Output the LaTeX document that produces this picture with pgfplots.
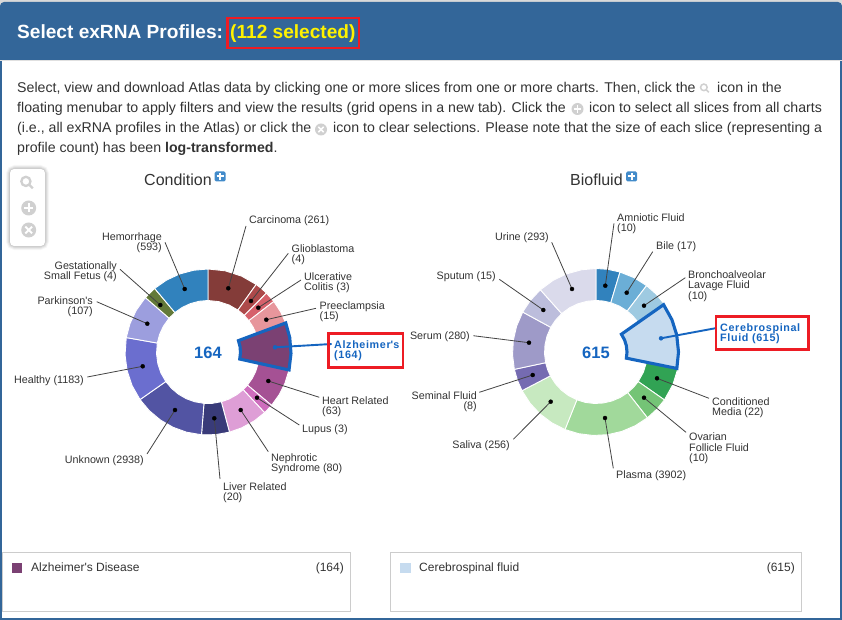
\documentclass[border=0pt]{standalone}
\usepackage{pgfplots}
\usepackage{fontspec}
\pgfplotsset{compat=1.18}
\setmainfont{Liberation Sans}
\newfontfamily\plainfam{Liberation Sans}
\newcommand{\apos}{{\plainfam '}}

\definecolor{panel}{HTML}{336699}
\definecolor{txt}{HTML}{333333}
\definecolor{sel}{HTML}{1565C0}
\definecolor{redbox}{HTML}{ED1C24}
\definecolor{ico}{HTML}{D0D0D0}
\definecolor{ldr}{HTML}{444444}
\definecolor{plusblue}{HTML}{428BCA}
\definecolor{c1}{HTML}{843C39}
\definecolor{c2}{HTML}{AD494A}
\definecolor{c3}{HTML}{D6616B}
\definecolor{c4}{HTML}{E7969C}
\definecolor{c5}{HTML}{7B4173}
\definecolor{c6}{HTML}{A55194}
\definecolor{c7}{HTML}{CE6DBD}
\definecolor{c8}{HTML}{DE9ED6}
\definecolor{c9}{HTML}{393B79}
\definecolor{c10}{HTML}{5254A3}
\definecolor{c11}{HTML}{6B6ECF}
\definecolor{c12}{HTML}{9C9EDE}
\definecolor{c13}{HTML}{637939}
\definecolor{d1}{HTML}{3182BD}
\definecolor{d2}{HTML}{6BAED6}
\definecolor{d3}{HTML}{9ECAE1}
\definecolor{d4}{HTML}{C6DBEF}
\definecolor{d5}{HTML}{31A354}
\definecolor{d6}{HTML}{74C476}
\definecolor{d7}{HTML}{A1D99B}
\definecolor{d8}{HTML}{C7E9C0}
\definecolor{d9}{HTML}{756BB1}
\definecolor{d10}{HTML}{9E9AC8}
\definecolor{d11}{HTML}{BCBDDC}
\definecolor{d12}{HTML}{DADAEB}

% sizes are in px, one pt of the picture is one px of the reference
\newcommand{\labfont}{\fontsize{10.75}{11}\selectfont}
\newcommand{\selfont}{\fontsize{10.75}{11}\selectfont\bfseries\addfontfeature{LetterSpace=6}}
\newcommand{\bodyfont}{\fontsize{14.15}{16}\selectfont}

\newcommand{\ringslice}[4]{% cx, colour, extra style, rows of angle and radius
  \addplot[fill=#2,#3] table[row sep=\\,
    x expr={#1+\thisrow{r}*sin(\thisrow{a})},
    y expr={352-\thisrow{r}*cos(\thisrow{a})}] {a r\\ #4} --cycle;}
\newcommand{\slA}[2]{\ringslice{208}{#1}{draw=white,line width=0.9pt}{#2}}
\newcommand{\slB}[2]{\ringslice{596}{#1}{draw=white,line width=0.9pt}{#2}}

\newcommand{\leader}[4]{%
  \addplot[color=ldr,line width=0.8pt] coordinates {(#1,#2) (#3,#4)};
  \addplot[only marks,mark=*,mark size=2pt,mark options={fill=black,draw=black}] coordinates {(#1,#2)};}
\newcommand{\bluelead}[4]{%
  \addplot[color=sel,line width=1.9pt] coordinates {(#1,#2) (#3,#4)};
  \addplot[only marks,mark=*,mark size=2pt,mark options={fill=sel,draw=sel}] coordinates {(#1,#2)};}

\newcommand{\lL}[3]{\node[anchor=base west,inner sep=0pt,text=txt,font=\labfont,yshift=-4.1pt] at (axis cs:#1,#2) {#3};}
\newcommand{\lR}[3]{\node[anchor=base east,inner sep=0pt,text=txt,font=\labfont,yshift=-4.1pt] at (axis cs:#1,#2) {#3};}
\newcommand{\lB}[3]{\node[anchor=base west,inner sep=0pt,text=sel,font=\selfont,yshift=-4.1pt] at (axis cs:#1,#2) {#3};}
\newcommand{\body}[3]{\node[anchor=base west,inner sep=0pt,text=txt,font=\bodyfont,yshift=-5.6pt] at (axis cs:#1,#2) {#3};}

\newcommand{\rect}[5]{\addplot[#5] coordinates {(#1,#2) (#3,#2) (#3,#4) (#1,#4)} --cycle;}

% round grey icons
\newcommand{\disc}[3]{\fill[ico] (axis cs:#1,#2) circle[radius=#3pt];}
\newcommand{\plusicon}[4]{\disc{#1}{#2}{#3}
  \draw[white,line width=#4pt] (axis cs:#1-#3*0.6,#2) -- (axis cs:#1+#3*0.6,#2);
  \draw[white,line width=#4pt] (axis cs:#1,#2-#3*0.6) -- (axis cs:#1,#2+#3*0.6);}
\newcommand{\closeicon}[4]{\disc{#1}{#2}{#3}
  \draw[white,line width=#4pt] (axis cs:#1-#3*0.45,#2-#3*0.45) -- (axis cs:#1+#3*0.45,#2+#3*0.45);
  \draw[white,line width=#4pt] (axis cs:#1-#3*0.45,#2+#3*0.45) -- (axis cs:#1+#3*0.45,#2-#3*0.45);}
\newcommand{\searchicon}[4]{%
  \draw[ico,line width=#4pt] (axis cs:#1-#3*0.35,#2-#3*0.35) circle[radius=#3pt];
  \draw[ico,line width=#4pt] (axis cs:#1+#3*0.35,#2+#3*0.35) -- (axis cs:#1+#3*1.15,#2+#3*1.15);}
\newcommand{\bluebox}[2]{%
  \fill[plusblue,rounded corners=1.5pt] (axis cs:#1,#2) rectangle (axis cs:#1+11,#2+10);
  \draw[white,line width=2pt] (axis cs:#1+2,#2+5) -- (axis cs:#1+9,#2+5);
  \draw[white,line width=2pt] (axis cs:#1+5.5,#2+1.5) -- (axis cs:#1+5.5,#2+8.5);}

\begin{document}
\begin{tikzpicture}
\path[use as bounding box] (0,0) rectangle (842pt,620pt);
\begin{axis}[
    at={(0,0)}, anchor=south west,
    scale only axis, width=842pt, height=620pt,
    xmin=0, xmax=842, ymin=0, ymax=620,
    y dir=reverse,
    hide axis, clip=false,
  ]

% page, header and frame
\rect{0}{0}{842}{8}{fill=black!15,draw=none}
\fill[panel,rounded corners=4pt] (axis cs:0,2) rectangle (axis cs:842,625);
\rect{2}{61}{840}{618}{fill=white,draw=none}
\rect{0}{60.5}{842}{61.5}{fill=black!12,draw=none}
\node[anchor=base west,inner sep=0pt,text=white,font=\fontsize{19.1}{20}\selectfont\bfseries] at (axis cs:17,38.5) {Select exRNA Profiles:};
\node[anchor=base west,inner sep=0pt,text=yellow,font=\fontsize{19.1}{20}\selectfont\bfseries] at (axis cs:230,38.5) {(112 selected)};
\rect{227.5}{18}{359}{48}{draw=redbox,line width=2.4pt}

% intro text
\body{17}{87}{Select, view and download Atlas data by clicking one or more slices from one or more charts. Then, click the}
\searchicon{705}{88.5}{3.3}{1.5}
\body{717}{87}{icon in the}
\body{17}{107}{floating menubar to apply filters and view the results (grid opens in a new tab). Click the}
\plusicon{577.5}{109}{6}{1.5}
\body{589}{107}{icon to select all slices from all charts}
\body{17}{127}{(i.e., all exRNA profiles in the Atlas) or click the}
\closeicon{321}{129.5}{6}{1.5}
\body{333}{127}{icon to clear selections. Please note that the size of each slice (representing a}
\body{17}{147}{profile count) has been \textbf{log-transformed}.}

% floating toolbar
\foreach \w/\o in {10/0.03,8/0.05,6/0.06,4/0.08,2/0.1}{
  \edef\tmp{\noexpand\draw[black,opacity=\o,line width=\w pt,rounded corners=4pt] (axis cs:11,170) rectangle (axis cs:44,245);}\tmp}
\fill[white,rounded corners=4pt] (axis cs:10,169) rectangle (axis cs:45,246);
\searchicon{27.5}{183}{4.6}{2.3}
\plusicon{28.7}{208}{7.5}{2}
\closeicon{28.7}{230}{7.5}{2}

% chart titles
\node[anchor=base west,inner sep=0pt,text=txt,font=\fontsize{16}{18}\selectfont] at (axis cs:144,186) {Condition};
\bluebox{214.5}{171.5}
\node[anchor=base west,inner sep=0pt,text=txt,font=\fontsize{16}{18}\selectfont] at (axis cs:570,186) {Biofluid};
\bluebox{626}{171.5}

% Condition donut: angle clockwise from the top, radius
\slA{c1}{0 83\\ 12 83\\ 24 83\\ 35.5 83\\ 35.5 51.5\\ 24 51.5\\ 12 51.5\\ 0 51.5\\}
\slA{c2}{35.5 83\\ 40 83\\ 44.8 83\\ 44.8 51.5\\ 40 51.5\\ 35.5 51.5\\}
\slA{c3}{44.8 83\\ 52.5 83\\ 52.5 51.5\\ 44.8 51.5\\}
\slA{c4}{52.5 83\\ 61 83\\ 69.5 83\\ 69.5 51.5\\ 61 51.5\\ 52.5 51.5\\}
\slA{c6}{102.5 83\\ 112 83\\ 121 83\\ 130 83\\ 130 51.5\\ 121 51.5\\ 112 51.5\\ 102.5 51.5\\}
\slA{c7}{130 83\\ 137 83\\ 137 51.5\\ 130 51.5\\}
\slA{c8}{137 83\\ 146 83\\ 156 83\\ 165 83\\ 165 51.5\\ 156 51.5\\ 146 51.5\\ 137 51.5\\}
\slA{c9}{165 83\\ 175 83\\ 184.5 83\\ 184.5 51.5\\ 175 51.5\\ 165 51.5\\}
\slA{c10}{184.5 83\\ 195 83\\ 205 83\\ 215 83\\ 225 83\\ 235 83\\ 235 51.5\\ 225 51.5\\ 215 51.5\\ 205 51.5\\ 195 51.5\\ 184.5 51.5\\}
\slA{c11}{235 83\\ 246 83\\ 257 83\\ 268 83\\ 280 83\\ 280 51.5\\ 268 51.5\\ 257 51.5\\ 246 51.5\\ 235 51.5\\}
\slA{c12}{280 83\\ 290 83\\ 300 83\\ 311 83\\ 311 51.5\\ 300 51.5\\ 290 51.5\\ 280 51.5\\}
\slA{c13}{311 83\\ 320 83\\ 320 51.5\\ 311 51.5\\}
\slA{d1}{320 83\\ 330 83\\ 340 83\\ 350 83\\ 360 83\\ 360 51.5\\ 350 51.5\\ 340 51.5\\ 330 51.5\\ 320 51.5\\}
\ringslice{208}{c5}{draw=sel,line width=3.1pt}{69.5 83\\ 80 83\\ 91 83\\ 102.5 83\\ 102.5 32.5\\ 91 32.5\\ 80 32.5\\ 69.5 32.5\\}

% Biofluid donut
\slB{d1}{0 83.5\\ 8 83.5\\ 16.7 83.5\\ 16.7 51.5\\ 8 51.5\\ 0 51.5\\}
\slB{d2}{16.7 83.5\\ 27 83.5\\ 37.3 83.5\\ 37.3 51.5\\ 27 51.5\\ 16.7 51.5\\}
\slB{d3}{37.3 83.5\\ 46 83.5\\ 55 83.5\\ 55 51.5\\ 46 51.5\\ 37.3 51.5\\}
\slB{d5}{101.5 83.5\\ 113 83.5\\ 125 83.5\\ 125 51.5\\ 113 51.5\\ 101.5 51.5\\}
\slB{d6}{125 83.5\\ 133 83.5\\ 142 83.5\\ 142 51.5\\ 133 51.5\\ 125 51.5\\}
\slB{d7}{142 83.5\\ 152 83.5\\ 162 83.5\\ 172 83.5\\ 182 83.5\\ 192 83.5\\ 201.8 83.5\\ 201.8 51.5\\ 192 51.5\\ 182 51.5\\ 172 51.5\\ 162 51.5\\ 152 51.5\\ 142 51.5\\}
\slB{d8}{201.8 83.5\\ 212 83.5\\ 222 83.5\\ 232 83.5\\ 242.4 83.5\\ 242.4 51.5\\ 232 51.5\\ 222 51.5\\ 212 51.5\\ 201.8 51.5\\}
\slB{d9}{242.4 83.5\\ 250 83.5\\ 258 83.5\\ 258 51.5\\ 250 51.5\\ 242.4 51.5\\}
\slB{d10}{258 83.5\\ 268 83.5\\ 278 83.5\\ 288 83.5\\ 298.6 83.5\\ 298.6 51.5\\ 288 51.5\\ 278 51.5\\ 268 51.5\\ 258 51.5\\}
\slB{d11}{298.6 83.5\\ 308 83.5\\ 318.2 83.5\\ 318.2 51.5\\ 308 51.5\\ 298.6 51.5\\}
\slB{d12}{318.2 83.5\\ 329 83.5\\ 339 83.5\\ 350 83.5\\ 360 83.5\\ 360 51.5\\ 350 51.5\\ 339 51.5\\ 329 51.5\\ 318.2 51.5\\}
\ringslice{596}{d4}{draw=sel,line width=3.1pt}{55 82.5\\ 67 82.5\\ 78 82.5\\ 90 82.5\\ 101.5 82.5\\ 101.5 31\\ 90 31\\ 78 31\\ 67 31\\ 55 31\\}

% leader lines of Condition
\leader{228.3}{288.3}{246}{226}
\leader{251}{301}{288.3}{253.3}
\leader{258.3}{307.7}{301}{280}
\leader{266.3}{319.7}{316}{308.3}
\leader{268.3}{381}{319.3}{397.3}
\leader{257}{397.7}{299.3}{425}
\leader{240.7}{410}{268.3}{451.7}
\leader{214.3}{418.3}{220}{479}
\leader{175}{410}{147}{454}
\leader{142.7}{366.3}{87.3}{377}
\leader{147.3}{323.7}{96.7}{301.7}
\leader{160.3}{305}{120}{269.3}
\leader{184.7}{289}{165}{242.3}
\bluelead{275}{347.3}{331.7}{344}

% leader lines of Biofluid
\leader{605.3}{285.7}{614}{223.3}
\leader{626.7}{292.7}{652.7}{251.7}
\leader{644}{305.7}{685.3}{277.7}
\leader{657}{378.3}{709}{398.3}
\leader{644}{397.7}{686}{432.3}
\leader{605}{418}{613.3}{468.3}
\leader{550.7}{401.7}{513.3}{439.3}
\leader{532.7}{375}{479.3}{392.3}
\leader{529}{342.7}{473.3}{335.7}
\leader{543.3}{310}{499.3}{279.3}
\leader{572}{289}{551.7}{242.3}
\bluelead{661}{338.3}{715}{328.3}

% labels of Condition
\lL{249}{219}{Carcinoma (261)}
\lL{291.5}{248}{Glioblastoma}
\lL{291.5}{258}{(4)}
\lL{304}{276}{Ulcerative}
\lL{304}{286}{Colitis (3)}
\lL{319.5}{305}{Preeclampsia}
\lL{319.5}{315}{(15)}
\lB{334}{344}{Alzheimer\apos s}
\lB{334}{354}{(164)}
\lL{322}{400}{Heart Related}
\lL{322}{410}{(63)}
\lL{302}{428}{Lupus (3)}
\lL{271}{457}{Nephrotic}
\lL{271}{467}{Syndrome (80)}
\lL{223}{486}{Liver Related}
\lL{223}{496}{(20)}
\lR{144}{459}{Unknown (2938)}
\lR{84}{379}{Healthy (1183)}
\lR{93}{300}{Parkinson\apos s}
\lR{93}{310}{(107)}
\lR{117}{265}{Gestationally}
\lR{117}{275}{Small Fetus (4)}
\lR{162}{236}{Hemorrhage}
\lR{162}{246}{(593)}

% labels of Biofluid
\lL{617}{217}{Amniotic Fluid}
\lL{617}{227}{(10)}
\lL{656}{245}{Bile (17)}
\lL{688}{274}{Bronchoalveolar}
\lL{688}{284}{Lavage Fluid}
\lL{688}{295}{(10)}
\lB{720}{327}{Cerebrospinal}
\lB{720}{337}{Fluid (615)}
\lL{712}{401}{Conditioned}
\lL{712}{411}{Media (22)}
\lL{689}{436}{Ovarian}
\lL{689}{447}{Follicle Fluid}
\lL{689}{457}{(10)}
\lL{616}{474}{Plasma (3902)}
\lR{510}{444}{Saliva (256)}
\lR{477}{395}{Seminal Fluid}
\lR{477}{405}{(8)}
\lR{470}{335}{Serum (280)}
\lR{496}{275}{Sputum (15)}
\lR{549}{236}{Urine (293)}

% selected counts in the donut holes
\node[anchor=base,inner sep=0pt,text=sel,font=\fontsize{16.5}{18}\selectfont\bfseries] at (axis cs:208,358) {164};
\node[anchor=base,inner sep=0pt,text=sel,font=\fontsize{16.5}{18}\selectfont\bfseries] at (axis cs:596,358) {615};

% red boxes round the selected labels
\rect{328.5}{333.5}{403}{367.5}{draw=redbox,line width=2.4pt}
\rect{716}{316.5}{808.5}{349.5}{draw=redbox,line width=2.4pt}

% selection boxes at the bottom
\rect{2.7}{552.5}{350.7}{611.5}{draw=black!20,line width=0.8pt}
\rect{390.4}{552.5}{801.8}{611.5}{draw=black!20,line width=0.8pt}
\rect{11.8}{563}{22}{573}{fill=c5,draw=none}
\rect{400}{563}{410.6}{573}{fill=d4,draw=none}
\node[anchor=base west,inner sep=0pt,text=txt,font=\fontsize{12}{14}\selectfont] at (axis cs:31,571.5) {Alzheimer\apos s Disease};
\node[anchor=base east,inner sep=0pt,text=txt,font=\fontsize{12}{14}\selectfont] at (axis cs:344,571.5) {(164)};
\node[anchor=base west,inner sep=0pt,text=txt,font=\fontsize{12}{14}\selectfont] at (axis cs:419,571.5) {Cerebrospinal fluid};
\node[anchor=base east,inner sep=0pt,text=txt,font=\fontsize{12}{14}\selectfont] at (axis cs:795,571.5) {(615)};

\end{axis}
\end{tikzpicture}
\end{document}
